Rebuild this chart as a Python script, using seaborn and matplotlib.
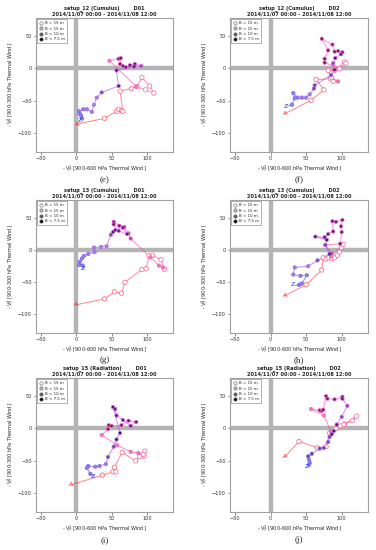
import numpy as np
import pandas as pd
import matplotlib
matplotlib.use("Agg")
import matplotlib.pyplot as plt
from matplotlib.colors import LinearSegmentedColormap, to_rgb
from matplotlib.lines import Line2D
import seaborn as sns

sns.set_style("white")
plt.rcParams['font.family'] = ['DejaVu Sans']

# ---------------- data ----------------
panel_ids = ["e", "f", "g", "h", "i", "j"]
setups = ["setup_12 (Cumulus)", "setup_12 (Cumulus)", "setup_13 (Cumulus)",
          "setup_13 (Cumulus)", "setup_15 (Radiation)", "setup_15 (Radiation)"]
domains = ["D01", "D02", "D01", "D02", "D01", "D02"]
period = "2014/11/07 00:00 - 2014/11/08 12:00"
legend_labels = ["B > 15 m", "B < 15 m", "B < 10 m", "B < 7.5 m"]
x_ticks = [-50, 0, 50, 100]
y_ticks = [-100, -50, 0, 50]

# B category: 0 = B>15, 1 = B<15, 2 = B<10, 3 = B<7.5
e_x = [1, 40, 57, 60, 64, 66, 62, 78, 86, 93, 104, 110, 98, 85, 47, 60, 63, 62, 66,
       70, 76, 83, 92, 82, 57, 60, 36, 29, 25, 22, 15, 10, 4, 5, 7, 8, 8]
e_y = [-86, -77, -66, -63, -65, -66, -35, -31, -28, -14, -27, -38, -33, -28, 12, 15, 16,
       7, 4, 2, 5, 7, 4, 3, -3, -27, -37, -45, -56, -67, -63, -63, -66, -70, -73, -77, -80]
e_b = [0, 0, 0, 0, 0, 0, 0, 0, 0, 0, 0, 0, 0, 1, 1, 3, 3, 3, 3, 3, 3, 3, 2, 3, 3, 3,
       2, 1, 1, 1, 1, 1, 1, 1, 1, 1, 1]

f_x = [20, 57, 75, 64, 84, 88, 95, 86, 81, 90, 104, 106, 97, 88, 76, 76, 81, 72, 87,
       90, 95, 101, 99, 91, 88, 90, 85, 62, 61, 55, 50, 44, 38, 32, 34, 30, 24]
f_y = [-70, -49, -33, -17, -16, -20, -20, -14, -3, -3, 10, 8, 0, 4, 9, 15, 28, 46, 37,
       26, 27, 25, 22, 16, 8, -2, -10, -26, -31, -40, -45, -45, -45, -38, -46, -56, -58]
f_b = [0, 0, 0, 0, 0, 0, 1, 0, 0, 0, 0, 0, 0, 1, 3, 3, 3, 3, 3, 3, 3, 3, 3, 3, 2, 3,
       2, 2, 2, 1, 1, 1, 1, 1, 1, 1, 1]

g_x = [0, 40, 54, 64, 69, 93, 99, 103, 108, 120, 125, 123, 117, 105, 77, 74, 68, 61, 53,
       53, 60, 72, 66, 55, 52, 49, 43, 35, 25, 26, 17, 11, 8, 5, 4, 9, 12]
g_y = [-85, -76, -65, -67, -50, -30, -29, -9, -8, -15, -30, -27, -24, -11, 18, 26, 36, 38,
       44, 40, 30, 25, 35, 31, 28, 24, 6, 5, 4, -3, -6, -9, -13, -18, -23, -24, -28]
g_b = [0, 0, 0, 0, 0, 0, 0, 0, 0, 0, 0, 1, 1, 1, 2, 2, 3, 3, 3, 3, 3, 3, 3, 3, 3, 2,
       1, 1, 1, 1, 1, 1, 1, 1, 1, 1, 1]

h_x = [20, 50, 72, 74, 78, 82, 86, 90, 94, 97, 100, 102, 85, 86, 77, 98, 100, 99, 101,
       92, 87, 88, 81, 76, 63, 79, 77, 83, 66, 53, 34, 32, 42, 51, 44, 40, 35]
h_y = [-71, -54, -31, -12, -14, -12, -13, -12, -8, -3, 4, 9, -10, -5, 8, 10, 28, 37, 47,
       44, 45, 29, 25, 20, 21, 16, 8, -6, -16, -25, -27, -38, -40, -39, -52, -54, -54]
h_b = [0, 0, 0, 0, 0, 0, 0, 0, 0, 0, 0, 0, 1, 2, 3, 3, 3, 3, 3, 3, 3, 3, 3, 3, 3, 3,
       2, 3, 2, 1, 1, 1, 1, 1, 1, 1, 1]

i_x = [-7, 37, 52, 56, 54, 65, 84, 90, 96, 97, 95, 88, 77, 58, 36, 45, 46, 50, 64,
       74, 85, 77, 66, 57, 55, 52, 62, 57, 53, 45, 42, 33, 27, 17, 15, 20, 26]
i_y = [-87, -72, -67, -67, -60, -37, -50, -43, -43, -35, -40, -38, -36, -26, -10, -1, 5, 4,
       5, 12, 10, 4, 13, 20, 30, 33, -7, -17, -28, -44, -55, -58, -59, -58, -61, -70, -74]
i_b = [0, 0, 0, 0, 0, 0, 0, 0, 0, 0, 0, 1, 1, 1, 1, 3, 3, 3, 3, 3, 3, 3, 3, 3, 3, 3,
       3, 3, 2, 2, 1, 1, 1, 1, 1, 1, 1]

j_x = [20, 40, 66, 78, 83, 92, 98, 104, 115, 121, 103, 85, 75, 57, 69, 72, 74, 78, 80,
       90, 101, 101, 108, 100, 93, 89, 86, 83, 81, 75, 69, 58, 53, 54, 55, 54, 54]
j_y = [-44, -20, -30, -28, -7, 0, 4, 7, 12, 19, 6, -5, 20, 30, 28, 27, 29, 50, 46,
       45, 49, 46, 35, 18, 6, -4, -9, -13, -21, -30, -31, -39, -43, -48, -53, -56, -58]
j_b = [0, 0, 0, 0, 0, 0, 0, 0, 0, 0, 0, 1, 1, 1, 3, 3, 3, 3, 3, 3, 3, 3, 2, 2, 3, 3,
       3, 2, 2, 2, 2, 2, 2, 1, 1, 1, 1]

panels = {"e": (e_x, e_y, e_b), "f": (f_x, f_y, f_b), "g": (g_x, g_y, g_b),
          "h": (h_x, h_y, h_b), "i": (i_x, i_y, i_b), "j": (j_x, j_y, j_b)}

# ---------------- styling ----------------
W, H = 376, 550
fig = plt.figure(figsize=(W / 100, H / 100), dpi=100)

col_lr = [(36, 173), (230, 368)]
row_tb = [(18, 152), (200, 333), (378, 512)]
label_y = [180, 360, 540]

cmap = LinearSegmentedColormap.from_list("rmb", ["#ff2020", "#ff30e0", "#2a2aff"])
grey_fill = {1: "#b8b8b8", 2: "#606060", 3: "#151515"}
legend_face = ["white", "#c0c0c0", "#606060", "black"]


def blend(c1, c2, w):
    a = np.array(to_rgb(c1)); b = np.array(to_rgb(c2))
    return tuple(a * w + b * (1 - w))


for k, pid in enumerate(panel_ids):
    r, c = divmod(k, 2)
    l, rr = col_lr[c]
    t, b = row_tb[r]
    ax = fig.add_axes([l / W, 1 - b / H, (rr - l) / W, (b - t) / H])
    xs, ys, bs = panels[pid]
    n = len(xs)
    tcol = [cmap(i / (n - 1)) for i in range(n)]

    ax.axvline(0, color="#b4b4b4", lw=3.2, zorder=1)
    ax.axhline(0, color="#b4b4b4", lw=3.2, zorder=1)

    # gradient line segments
    rows = []
    for i in range(n - 1):
        rows.append((xs[i], ys[i], i))
        rows.append((xs[i + 1], ys[i + 1], i))
    seg = pd.DataFrame(rows, columns=["x", "y", "seg"])
    seg_pal = {i: tcol[i] for i in range(n - 1)}
    sns.lineplot(data=seg, x="x", y="y", hue="seg", palette=seg_pal, sort=False,
                 estimator=None, legend=False, ax=ax, lw=0.7, alpha=0.55, zorder=2)

    # points (skip first and last: labelled A and Z)
    pts = pd.DataFrame({"x": xs, "y": ys, "b": bs, "t": np.arange(n)}).iloc[1:-1]
    pts["key"] = pts["t"].astype(str)
    face = {}
    edge = []
    for _, row in pts.iterrows():
        col = tcol[row.t]
        if row.b == 0:
            face[row.key] = "white"
        else:
            face[row.key] = blend(col, grey_fill[row.b], 0.35)
        edge.append(blend(col, "white", 0.75))
    pts["sz"] = np.where(pts["b"] == 0, 2, 1)
    sns.scatterplot(data=pts, x="x", y="y", hue="key", palette=face, size="sz",
                    sizes={2: 10, 1: 6}, edgecolor=edge, linewidth=0.5,
                    legend=False, ax=ax, zorder=3)

    ax.text(xs[0], ys[0], "A", color="#ff2020", fontsize=4.5, ha="center",
            va="center", zorder=4)
    ax.text(xs[-1] - 3, ys[-1], "Z", color="#2a2aff", fontsize=4.5, ha="center",
            va="center", zorder=4)

    ax.set_xlim(-57, 137)
    ax.set_ylim(-129, 78)
    ax.set_xticks(x_ticks)
    ax.set_yticks(y_ticks)
    ax.tick_params(axis="both", labelsize=3.6, length=1.8, width=0.4, pad=1.2,
                   colors="#333333", direction="out", bottom=True, left=True)
    for sp in ax.spines.values():
        sp.set_color("#a0a0a0")
        sp.set_linewidth(0.8)
    ax.set_xlabel(r"- V$_T^1$ [900-600 hPa Thermal Wind]", fontsize=3.6, labelpad=1.2)
    ax.set_ylabel(r"- V$_T^2$ [900-300 hPa Thermal Wind]", fontsize=3.6, labelpad=1.5)
    ax.set_title(f"{setups[k]}        {domains[k]}\n{period}", fontsize=3.6,
                 fontweight="bold", pad=1.5, linespacing=1.3)

    handles = [Line2D([], [], ls="", marker="o", markersize=2.4,
                      markerfacecolor=legend_face[q], markeredgecolor="#555555",
                      markeredgewidth=0.4) for q in range(4)]
    leg = ax.legend(handles, legend_labels, loc="upper left", fontsize=2.9,
                    frameon=True, fancybox=False, borderpad=0.5, labelspacing=0.35,
                    handlelength=0.8, handletextpad=0.6, borderaxespad=0.3)
    leg.get_frame().set_edgecolor("#555555")
    leg.get_frame().set_linewidth(0.4)

    fig.text(((l + rr) / 2) / W, 1 - label_y[r] / H, f"({pid})", fontsize=6.5,
             family="Liberation Serif", ha="center", va="center")

fig.savefig("out.png", dpi=100)
